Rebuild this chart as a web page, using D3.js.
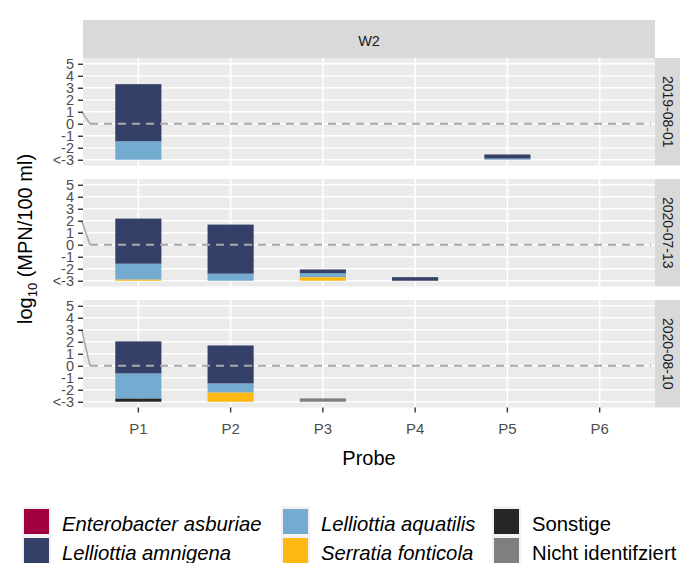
<!DOCTYPE html>
<html>
<head>
<meta charset="utf-8">
<script src="https://cdn.jsdelivr.net/npm/d3@7"></script>
<style>
body { margin: 0; background: #fff; }
text { font-family: "Liberation Sans", Arial, sans-serif; }
</style>
</head>
<body>
<script>
var width = 680;
var height = 563;

var probes = ["P1", "P2", "P3", "P4", "P5", "P6"];
var dates = ["2019-08-01", "2020-07-13", "2020-08-10"];
var facetLabel = "W2";
var species = ["Enterobacter asburiae", "Lelliottia amnigena", "Lelliottia aquatilis",
               "Serratia fonticola", "Sonstige", "Nicht identifziert"];
var italic = [true, true, true, true, false, false];
var colors = ["#A0003F", "#344068", "#73ABD1", "#FDB813", "#262626", "#7F7F7F"];

// segment heights (log units above the "<-3" floor), one row per date, one value per probe
var enterobacter = [[0, 0, 0, 0, 0, 0], [0, 0, 0, 0, 0, 0], [0, 0, 0, 0, 0, 0]];
var amnigena     = [[4.76, 0, 0, 0, 0.34, 0], [3.76, 4.09, 0.31, 0.3, 0, 0], [2.67, 3.16, 0, 0, 0, 0]];
var aquatilis    = [[1.54, 0, 0, 0, 0.1, 0], [1.31, 0.59, 0.33, 0, 0, 0], [2.08, 0.75, 0, 0, 0, 0]];
var serratia     = [[0, 0, 0, 0, 0, 0], [0.11, 0, 0.3, 0, 0, 0], [0, 0.78, 0, 0, 0, 0]];
var sonstige     = [[0, 0, 0, 0, 0, 0], [0, 0, 0, 0, 0, 0], [0.28, 0, 0, 0, 0, 0]];
var nicht        = [[0, 0, 0, 0, 0, 0], [0, 0, 0, 0, 0, 0], [0, 0, 0.28, 0, 0, 0]];

var yTicks = [-3, -2, -1, 0, 1, 2, 3, 4, 5];
var floorValue = -3;
var breakTop = [1, 2, 3];

var seriesData = [enterobacter, amnigena, aquatilis, serratia, sonstige, nicht];
// stacked bottom-up: last legend entry at the bottom
var stackKeys = species.slice().reverse();

var left = 83, right = 655;
var panelTop = 58, panelH = 107.5, panelGap = 13.5;

var svg = d3.select("body")
    .append("svg")
    .attr("width", width)
    .attr("height", height);

var x = d3.scaleBand()
    .domain(probes)
    .range([left, right])
    .paddingInner(0)
    .paddingOuter(0.1);

// top strip
svg.append("rect")
    .attr("x", left).attr("y", 20)
    .attr("width", right - left).attr("height", panelTop - 20)
    .attr("fill", "#D9D9D9");
svg.append("text")
    .attr("x", (left + right) / 2).attr("y", 41)
    .attr("dy", "0.35em")
    .attr("text-anchor", "middle")
    .style("font-size", "14.5px")
    .attr("fill", "#1A1A1A")
    .text(facetLabel);

var stack = d3.stack().keys(stackKeys);

dates.forEach(function(date, di) {
    var top = panelTop + di * (panelH + panelGap);
    var bottom = top + panelH;
    var y = d3.scaleLinear().domain([-3.48, 5.48]).range([bottom, top]);

    var table = probes.map(function(p, pi) {
        var row = { probe: p };
        species.forEach(function(s, si) { row[s] = seriesData[si][di][pi]; });
        return row;
    });
    var layers = stack(table);

    var g = svg.append("g");

    g.append("rect")
        .attr("x", left).attr("y", top)
        .attr("width", right - left).attr("height", panelH)
        .attr("fill", "#EBEBEB");

    g.selectAll(".hgrid")
        .data(yTicks)
        .enter().append("line")
        .attr("x1", left).attr("x2", right)
        .attr("y1", function(d) { return y(d); })
        .attr("y2", function(d) { return y(d); })
        .attr("stroke", "#fff")
        .attr("stroke-width", 1.6);

    g.selectAll(".vgrid")
        .data(probes)
        .enter().append("line")
        .attr("x1", function(d) { return x(d) + x.bandwidth() / 2; })
        .attr("x2", function(d) { return x(d) + x.bandwidth() / 2; })
        .attr("y1", top).attr("y2", bottom)
        .attr("stroke", "#fff")
        .attr("stroke-width", 1.6);

    var layer = g.selectAll(".layer")
        .data(layers)
        .enter().append("g")
        .attr("fill", function(d) { return colors[species.indexOf(d.key)]; });

    layer.selectAll("rect")
        .data(function(d) { return d.filter(function(s) { return s[1] > s[0]; }); })
        .enter().append("rect")
        .attr("x", function(d) { return x(d.data.probe) + x.bandwidth() / 4; })
        .attr("width", x.bandwidth() / 2)
        .attr("y", function(d) { return y(floorValue + d[1]); })
        .attr("height", function(d) { return y(floorValue + d[0]) - y(floorValue + d[1]); });

    // zero line and axis-break mark
    g.append("line")
        .attr("x1", 90).attr("x2", right - 4)
        .attr("y1", y(0)).attr("y2", y(0))
        .attr("stroke", "#A8A8A8")
        .attr("stroke-width", 2)
        .attr("stroke-dasharray", "8,6");
    g.append("line")
        .attr("x1", 81.7).attr("y1", y(breakTop[di]))
        .attr("x2", 90).attr("y2", y(0))
        .attr("stroke", "#A8A8A8")
        .attr("stroke-width", 1.5);

    var yAxis = g.append("g")
        .attr("transform", "translate(" + left + ",0)")
        .call(d3.axisLeft(y).tickValues(yTicks).tickSize(5).tickPadding(4)
            .tickFormat(function(d) { return d === floorValue ? "<" + d : d; }));
    yAxis.select(".domain").remove();
    yAxis.selectAll(".tick line").attr("stroke", "#333").attr("stroke-width", 1.4);
    yAxis.selectAll(".tick text")
        .attr("fill", "#4D4D4D")
        .style("font-size", "14.5px")
        .style("font-family", "Liberation Sans, Arial, sans-serif");

    // right strip
    g.append("rect")
        .attr("x", right).attr("y", top)
        .attr("width", width - right).attr("height", panelH)
        .attr("fill", "#D9D9D9");
    g.append("text")
        .attr("transform", "translate(" + (right + 13) + "," + (top + panelH / 2) + ") rotate(90)")
        .attr("text-anchor", "middle")
        .attr("dy", "0.35em")
        .style("font-size", "14px")
        .attr("fill", "#1A1A1A")
        .text(date);

    if (di === dates.length - 1) {
        var xAxis = g.append("g")
            .attr("transform", "translate(0," + bottom + ")")
            .call(d3.axisBottom(x).tickSize(5).tickPadding(11));
        xAxis.select(".domain").remove();
        xAxis.selectAll(".tick line").attr("stroke", "#333").attr("stroke-width", 1.4);
        xAxis.selectAll(".tick text")
            .attr("fill", "#4D4D4D")
            .style("font-size", "15px")
            .style("font-family", "Liberation Sans, Arial, sans-serif");
    }
});

// axis titles
svg.append("text")
    .attr("x", (left + right) / 2).attr("y", 465)
    .attr("text-anchor", "middle")
    .style("font-size", "20px")
    .text("Probe");

var yTitle = svg.append("text")
    .attr("transform", "translate(32,239) rotate(-90)")
    .attr("text-anchor", "middle")
    .style("font-size", "20px");
yTitle.append("tspan").text("log");
yTitle.append("tspan").attr("dy", 5).style("font-size", "13px").text("10");
yTitle.append("tspan").attr("dy", -5).text(" (MPN/100 ml)");

// legend, filled column by column
var legendCols = [24, 283, 494];
var legendRows = [509, 538];
var legend = svg.selectAll(".legend")
    .data(species)
    .enter().append("g")
    .attr("class", "legend")
    .attr("transform", function(d, i) {
        return "translate(" + legendCols[Math.floor(i / 2)] + "," + legendRows[i % 2] + ")";
    });

legend.append("rect")
    .attr("x", -2).attr("y", -2.5)
    .attr("width", 29).attr("height", 29)
    .attr("fill", "#F2F2F2");
legend.append("rect")
    .attr("width", 25)
    .attr("height", 25)
    .style("fill", function(d, i) { return colors[i]; });
legend.append("text")
    .attr("x", 38)
    .attr("y", 22)
    .style("font-size", "20.3px")
    .style("font-style", function(d, i) { return italic[i] ? "italic" : "normal"; })
    .attr("fill", "#000")
    .text(function(d) { return d; });
</script>
</body>
</html>
